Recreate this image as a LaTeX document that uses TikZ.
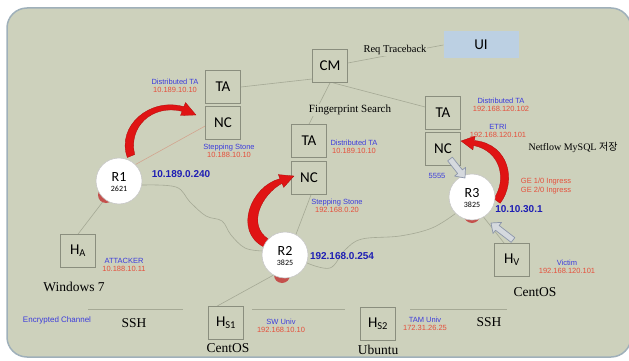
\documentclass[tikz,border=0pt]{standalone}
\usepackage{fontspec}
\setmainfont{Liberation Serif}
\newfontfamily\labelfont{Liberation Sans}
\newfontfamily\boxfont{Carlito}
\newfontfamily\krfont{Noto Sans CJK KR}
\usetikzlibrary{calc}

\pgfdeclarelayer{panellayer}
\pgfdeclarelayer{wirelayer}
\pgfsetlayers{panellayer,wirelayer,main}

\definecolor{panel}{HTML}{CDD1BC}
\definecolor{panelrim}{HTML}{9FB0BA}
\definecolor{wirecol}{HTML}{A5A995}
\definecolor{pinkwire}{HTML}{D2A48E}
\definecolor{boxrim}{HTML}{8A8E7E}
\definecolor{uiblue}{HTML}{BCD0E3}
\definecolor{tagblue}{HTML}{3C3CDC}
\definecolor{tagred}{HTML}{E5503C}
\definecolor{ipblue}{HTML}{1E1EB4}
\definecolor{arrowred}{HTML}{E01414}
\definecolor{arrowdark}{HTML}{B00A0A}
\definecolor{blob}{HTML}{C4504C}
\definecolor{hollowrim}{HTML}{8C96AA}
\definecolor{hollowfill}{HTML}{D5D9DE}

\tikzset{
  unit/.style={draw=boxrim, line width=0.7pt, fill=panel, minimum width=35pt,
    minimum height=33pt, inner sep=0pt, font=\boxfont\fontsize{15}{15}\selectfont},
  router/.style={circle, draw=gray!45, fill=white, minimum size=46pt, inner sep=0pt,
    line width=0.6pt},
  rname/.style={inner sep=0pt, font=\boxfont\fontsize{14}{14}\selectfont},
  rport/.style={inner sep=0pt, font=\boxfont\fontsize{8}{8}\selectfont},
  wire/.style={draw=wirecol, line width=0.6pt},
  tag/.style={inner sep=0pt, align=center, text=tagblue,
    font=\labelfont\fontsize{7.5}{8.2}\selectfont},
  ip/.style={inner sep=0pt, text=ipblue, font=\labelfont\bfseries\fontsize{10}{12}\selectfont},
  osname/.style={inner sep=0pt, font=\fontsize{13.5}{15}\selectfont},
  note/.style={inner sep=1pt, fill=panel, font=\fontsize{10.5}{12}\selectfont},
  redarrow/.style={fill=arrowred, draw=arrowdark, line width=0.3pt, line join=round},
}

% outlined block arrow from #1 to its tip #2
\newcommand\hollowarrow[2]{%
  \coordinate (hs) at #1; \coordinate (ht) at #2;
  \coordinate (hn) at ($(ht)!8pt!(hs)$);
  \filldraw[fill=hollowfill, draw=hollowrim, line width=0.7pt, line join=round]
    ($(hs)!3pt!90:(ht)$) -- ($(hn)!3pt!-90:(hs)$) -- ($(hn)!7pt!-90:(hs)$) -- (ht)
    -- ($(hn)!7pt!90:(hs)$) -- ($(hn)!3pt!90:(hs)$) -- ($(hs)!3pt!-90:(ht)$) -- cycle;}

\begin{document}
\begin{tikzpicture}[x=1pt, y=-1pt]
\useasboundingbox (0,0) rectangle (629,361);
\clip (0,0) rectangle (629,361);

% panel
\begin{pgfonlayer}{panellayer}
\draw[fill=panel, draw=panelrim, line width=1.5pt, rounded corners=20pt]
  (7,8) rectangle (631,357);
\end{pgfonlayer}

% boxes
\node[unit] (ta1) at (223,87) {TA};
\node[unit] (nc1) at (223,123) {NC};
\node[unit] (cm)  at (330,66) {CM};
\node[fill=uiblue, minimum width=75pt, minimum height=27pt, inner sep=0pt,
  font=\boxfont\fontsize{15}{15}\selectfont] (ui) at (481,45) {UI};
\node[unit] (ta2) at (309,141) {TA};
\node[unit] (nc2) at (309,178) {NC};
\node[unit] (ta3) at (443,113) {TA};
\node[unit] (nc3) at (443,149) {NC};
\node[unit] (ha)  at (78,251) {H\textsubscript{A}};
\node[unit] (hs1) at (226,323) {H\textsubscript{S1}};
\node[unit] (hs2) at (378,324) {H\textsubscript{S2}};
\node[unit] (hv)  at (512,260) {H\textsubscript{V}};

% red curved arrows (router tails hidden under the routers)
\path[redarrow] (127.3,157.5) .. controls (116,126) and (150,97) .. (183.9,106.7)
  -- (185.5,102.5) -- (196,115) -- (180.5,115.5) -- (182.1,111.3)
  .. controls (152,104) and (128,127) .. (134.7,154.5) -- cycle;
\path[redarrow] (263.7,246.9) .. controls (233,231) and (251,186) .. (280,178.7)
  -- (278.3,174.6) -- (294,176) -- (283.7,187.4) -- (282,183.3)
  .. controls (261,195) and (247,225) .. (268.3,239.1) -- cycle;
\path[redarrow] (500.2,203.3) .. controls (517,181) and (509,144) .. (474.4,140.5)
  -- (475.1,136.1) -- (461,141) -- (472.9,149.9) -- (473.6,145.5)
  .. controls (501,151) and (507,180) .. (493.8,198.7) -- cycle;

% routers with their shadows
\fill[blob] (106,195) circle (8pt);
\fill[blob] (282,275) circle (8pt);
\fill[blob] (472,215) circle (8pt);
\node[router] (r1) at (119,181) {};
\node[router] (r2) at (285,255) {};
\node[router] (r3) at (472,197) {};
\node[rname] (r1n) at ($(r1)+(0,-4)$) {R1};
\node[rport] (r1p) at ($(r1)+(0,8)$) {2621};
\node[rname] (r2n) at ($(r2)+(0,-4)$) {R2};
\node[rport] (r2p) at ($(r2)+(0,8)$) {3825};
\node[rname] (r3n) at ($(r3)+(0,-4)$) {R3};
\node[rport] (r3p) at ($(r3)+(0,8)$) {3825};

% wires, under the boxes and routers
\begin{pgfonlayer}{wirelayer}
\draw[wire] (ta1.east) -- ($(cm.west)+(0,13)$);
\draw[wire] ($(cm.east)+(0,-3)$) -- (ui.west);
\draw[wire] (cm.south) -- (ta2.north);
\draw[wire] ($(cm.south)+(3,0)$) -- ($(ta3.west)+(0,-6)$);
\draw[draw=pinkwire, line width=0.6pt] ($(nc1.west)+(0,3)$) -- (r1.45);
\draw[wire] (r1.232) -- (ha.north);
\draw[wire] (r2.240) -- ($(hs1.north)+(-9,0)$);
\draw[wire] (r2.62) -- ($(nc2.south)+(2,0)$);
\draw[wire] (r3.300) -- ($(hv.north west)+(10,0)$);
\draw[wire] plot[smooth, tension=0.6] coordinates {(r1.-10) (176,187) (190,202)
  (206,216) (222,221) (231,235) (245,248) (r2.170)};
\draw[wire] plot[smooth, tension=0.6] coordinates {(r2.-20) (330,268) (345,250)
  (362,239) (400,236) (432,228) (r3.225)};
% channel rules
\coordinate (ch1a) at (88,309);  \coordinate (ch1b) at (183,309);
\coordinate (ch2a) at (252,309); \coordinate (ch2b) at (345,309);
\coordinate (ch3a) at (410,309); \coordinate (ch3b) at (507,309);
\draw[wire] (ch1a) -- (ch1b);
\draw[wire] (ch2a) -- (ch2b);
\draw[wire] (ch3a) -- (ch3b);
\end{pgfonlayer}

% outlined arrows into R3
\hollowarrow{(450,159)}{(465,178)}
\hollowarrow{(513,240)}{(491,223)}

% captions on the wires
\node[note] (req) at (395,50) {Req Traceback};
\node[note, font=\fontsize{11}{12}\selectfont] (fp) at (350,110) {Fingerprint Search};
\node[inner sep=0pt, font=\fontsize{10}{12}\selectfont] (nf) at (573,147)
  {Netflow MySQL {\krfont 저장}};

% address tags
\node[tag] (t1) at (175,86) {Distributed TA\\\textcolor{tagred}{10.189.10.10}};
\node[tag] (t2) at (229,151) {Stepping Stone\\\textcolor{tagred}{10.188.10.10}};
\node[tag] (t3) at (124,265) {ATTACKER\\\textcolor{tagred}{10.188.10.11}};
\node[tag] (t4) at (354,147) {Distributed TA\\\textcolor{tagred}{10.189.10.10}};
\node[tag] (t5) at (337,206) {Stepping Stone\\\textcolor{tagred}{192.168.0.20}};
\node[tag] (t6) at (281,326) {SW Univ\\\textcolor{tagred}{192.168.10.10}};
\node[tag] (t7) at (501,105) {Distributed TA\\\textcolor{tagred}{192.168.120.102}};
\node[tag] (t8) at (498,131) {ETRI\\\textcolor{tagred}{192.168.120.101}};
\node[tag, text=tagred] (t9) at (546,186) {GE 1/0 Ingress\\GE 2/0 Ingress};
\node[tag] (t10) at (567,267) {Victim\\\textcolor{tagred}{192.168.120.101}};
\node[tag] (t11) at (425,324) {TAM Univ\\\textcolor{tagred}{172.31.26.25}};
\node[tag] (port) at (437,176) {5555};
\node[tag, font=\labelfont\fontsize{8}{9}\selectfont] (enc) at (57,320) {Encrypted Channel};

% router addresses
\node[ip] (ip1) at (181,174) {10.189.0.240};
\node[ip] (ip2) at (342,256) {192.168.0.254};
\node[ip] (ip3) at (519,209) {10.10.30.1};

% host systems and channels
\node[osname] (os1) at (74,287) {Windows 7};
\node[osname] (os2) at (228,348) {CentOS};
\node[osname] (os3) at (535,292) {CentOS};
\node[osname] (os4) at (378,350) {Ubuntu};
\node[osname] (ssh1) at (134,323) {SSH};
\node[osname] (ssh2) at (489,322) {SSH};
\end{tikzpicture}
\end{document}
